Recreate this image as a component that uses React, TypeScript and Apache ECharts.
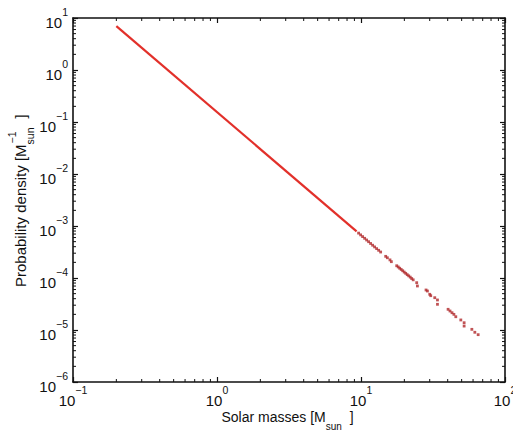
import React, { useEffect, useRef } from "react";
import * as echarts from "echarts";

// ---- data ----
const X_MIN = 0.1;
const X_MAX = 100;
const Y_MIN = 1e-6;
const Y_MAX = 10;

// continuous part of the power-law density (drawn as a solid line)
const lineMass = [0.2, 9.32];
const lineDensity = [7.0, 7.87e-4];

// sparse tail, plotted as dots
const tailMass = [
  9.62, 9.94, 10.26, 10.6, 10.94, 11.29, 11.66, 12.04, 12.43, 12.84, 13.26, 13.69,
  14.84, 15.24, 15.89, 16.25,
  17.7, 18.13, 18.56, 19.01, 19.48, 19.95, 20.44, 20.94, 21.44, 21.97, 22.49, 23.04, 24.37, 24.65,
  28.29, 28.93, 30.02, 30.5, 32.52, 33.96, 33.96,
  40.25, 41.5, 42.85, 44.17, 45.53, 49.33, 52.02, 52.02, 58.86, 61.74, 65.1,
];
const tailDensity = [
  7.3e-4, 6.75e-4, 6.25e-4, 5.8e-4, 5.38e-4, 4.99e-4, 4.61e-4, 4.27e-4, 3.96e-4, 3.67e-4, 3.41e-4, 3.16e-4,
  2.61e-4, 2.45e-4, 2.23e-4, 2.06e-4,
  1.72e-4, 1.63e-4, 1.54e-4, 1.46e-4, 1.38e-4, 1.3e-4, 1.23e-4, 1.16e-4, 1.1e-4, 1.04e-4, 9.77e-5, 9.23e-5, 8.13e-5, 7.02e-5,
  5.88e-5, 5.62e-5, 4.86e-5, 4.57e-5, 4.18e-5, 3.78e-5, 3.12e-5,
  2.5e-5, 2.32e-5, 2.15e-5, 2.0e-5, 1.8e-5, 1.56e-5, 1.38e-5, 1.19e-5, 1.03e-5, 9.04e-6, 8.13e-6,
];

// minor tick positions (2..9 within each decade)
const minorMultipliers = [2, 3, 4, 5, 6, 7, 8, 9];
const xDecades = [0.1, 1, 10];
const yDecades = [1e-6, 1e-5, 1e-4, 1e-3, 1e-2, 1e-1, 1];

const xTitleMain = "Solar masses [M";
const yTitleMain = "Probability density [M";
const subText = "sun";
const supText = "\u22121";
const closeBracket = "]";

const FONT = "'Liberation Sans', Arial, Helvetica, sans-serif";
const TEXT = "#111";
const RED = "#e2302a";

function measure(text: string, size: number): number {
  const c = document.createElement("canvas").getContext("2d");
  if (!c) return text.length * size * 0.55;
  c.font = `${size}px 'Liberation Sans', Arial, sans-serif`;
  return c.measureText(text).width;
}

function expLabel(v: number): string {
  const e = Math.round(Math.log10(v));
  const s = e < 0 ? "\u2212" + Math.abs(e) : String(e);
  const bStyle = e < 0 ? "bn" : "bp";
  return `{e|${s}}\n{${bStyle}|10}`;
}

export default function App() {
  const ref = useRef<HTMLDivElement>(null);

  useEffect(() => {
    if (!ref.current) return;
    const chart = echarts.init(ref.current, undefined, { renderer: "svg" });

    const w10 = measure("10", 15);
    const wNeg = measure("\u22121", 10.5);
    const wPos = measure("0", 10.5);

    const rich = {
      e: { fontSize: 10.5, fontFamily: FONT, color: TEXT, lineHeight: 8, padding: [0, 0, 0, w10] },
      bn: { fontSize: 15, fontFamily: FONT, color: TEXT, lineHeight: 13, padding: [0, wNeg, 0, 0] },
      bp: { fontSize: 15, fontFamily: FONT, color: TEXT, lineHeight: 13, padding: [0, wPos, 0, 0] },
    };

    const xMinor: number[][] = [];
    xDecades.forEach((d) => minorMultipliers.forEach((m) => xMinor.push([d * m, Y_MIN])));
    const yMinor: number[][] = [];
    yDecades.forEach((d) => minorMultipliers.forEach((m) => yMinor.push([X_MIN, d * m])));

    const tickStyle = { stroke: "#111", lineWidth: 1 };

    // axis titles
    const xTitleSize = 14;
    const wXMain = measure(xTitleMain, xTitleSize);
    const wXSub = measure(subText, 10);
    const xStart = 221.5;
    const xTitleY = 417;

    const yTitleSize = 15;
    const wYMain = measure(yTitleMain, yTitleSize);
    const wYSub = measure(subText, 10.5);

    const axisLine = { show: true, lineStyle: { color: "#111", width: 1.6 } };
    const majorTick = { show: true, inside: true, length: 5, lineStyle: { color: "#111", width: 1.2 } };

    const option: any = {
      animation: false,
      backgroundColor: "#ffffff",
      grid: { left: 73, right: 8, top: 18, bottom: 52, containLabel: false, outerBoundsMode: "none" },
      xAxis: [
        {
          type: "log",
          logBase: 10,
          min: X_MIN,
          max: X_MAX,
          position: "bottom",
          axisLine,
          axisTick: majorTick,
          splitLine: { show: false },
          axisLabel: {
            margin: 4,
            formatter: expLabel,
            rich,
            showMinLabel: true,
            showMaxLabel: true,
          },
        },
        {
          type: "log",
          logBase: 10,
          min: X_MIN,
          max: X_MAX,
          position: "top",
          axisLine,
          axisTick: majorTick,
          splitLine: { show: false },
          axisLabel: { show: false },
        },
      ],
      yAxis: [
        {
          type: "log",
          logBase: 10,
          min: Y_MIN,
          max: Y_MAX,
          position: "left",
          axisLine,
          axisTick: majorTick,
          splitLine: { show: false },
          axisLabel: {
            margin: 5,
            formatter: expLabel,
            rich,
            showMinLabel: true,
            showMaxLabel: true,
          },
        },
        {
          type: "log",
          logBase: 10,
          min: Y_MIN,
          max: Y_MAX,
          position: "right",
          axisLine,
          axisTick: majorTick,
          splitLine: { show: false },
          axisLabel: { show: false },
        },
      ],
      series: [
        {
          type: "line",
          data: lineMass.map((m, i) => [m, lineDensity[i]]),
          showSymbol: false,
          symbol: "none",
          lineStyle: { color: RED, width: 2.2 },
          z: 3,
        },
        {
          type: "scatter",
          data: tailMass.map((m, i) => [m, tailDensity[i]]),
          symbol: "rect",
          symbolSize: 2.8,
          itemStyle: { color: "#b0282a" },
          z: 3,
        },
        {
          type: "custom",
          coordinateSystem: "cartesian2d",
          data: xMinor,
          silent: true,
          clip: false,
          z: 5,
          renderItem: (_p: any, api: any) => {
            const v = api.value(0);
            const b = api.coord([v, Y_MIN]);
            const t = api.coord([v, Y_MAX]);
            return {
              type: "group",
              children: [
                { type: "line", shape: { x1: b[0], y1: b[1], x2: b[0], y2: b[1] - 3 }, style: tickStyle },
                { type: "line", shape: { x1: t[0], y1: t[1], x2: t[0], y2: t[1] + 3 }, style: tickStyle },
              ],
            };
          },
        },
        {
          type: "custom",
          coordinateSystem: "cartesian2d",
          data: yMinor,
          silent: true,
          clip: false,
          z: 5,
          renderItem: (_p: any, api: any) => {
            const v = api.value(1);
            const l = api.coord([X_MIN, v]);
            const r = api.coord([X_MAX, v]);
            return {
              type: "group",
              children: [
                { type: "line", shape: { x1: l[0], y1: l[1], x2: l[0] + 3, y2: l[1] }, style: tickStyle },
                { type: "line", shape: { x1: r[0], y1: r[1], x2: r[0] - 3, y2: r[1] }, style: tickStyle },
              ],
            };
          },
        },
      ],
      graphic: [
        {
          type: "group",
          x: xStart,
          y: xTitleY,
          children: [
            {
              type: "text",
              x: 0,
              y: 0,
              style: { text: xTitleMain, font: `${xTitleSize}px ${FONT}`, fill: TEXT, verticalAlign: "middle", align: "left" },
            },
            {
              type: "text",
              x: wXMain,
              y: 9,
              style: { text: subText, font: `10px ${FONT}`, fill: TEXT, verticalAlign: "middle", align: "left" },
            },
            {
              type: "text",
              x: wXMain + wXSub + 8,
              y: 0,
              style: { text: closeBracket, font: `${xTitleSize}px ${FONT}`, fill: TEXT, verticalAlign: "middle", align: "left" },
            },
          ],
        },
        {
          type: "group",
          x: 20,
          y: 287,
          rotation: Math.PI / 2,
          children: [
            {
              type: "text",
              x: 0,
              y: 0,
              style: { text: yTitleMain, font: `${yTitleSize}px ${FONT}`, fill: TEXT, verticalAlign: "middle", align: "left" },
            },
            {
              type: "text",
              x: wYMain,
              y: 10,
              style: { text: subText, font: `10.5px ${FONT}`, fill: TEXT, verticalAlign: "middle", align: "left" },
            },
            {
              type: "text",
              x: wYMain + 1,
              y: -8,
              style: { text: supText, font: `10.5px ${FONT}`, fill: TEXT, verticalAlign: "middle", align: "left" },
            },
            {
              type: "text",
              x: wYMain + wYSub + 9,
              y: 0,
              style: { text: closeBracket, font: `${yTitleSize}px ${FONT}`, fill: TEXT, verticalAlign: "middle", align: "left" },
            },
          ],
        },
      ],
    };

    chart.setOption(option);
    return () => chart.dispose();
  }, []);

  return (
    <div
      ref={ref}
      style={{ position: "fixed", left: 0, top: 0, width: 513, height: 434, background: "#fff" }}
    />
  );
}
